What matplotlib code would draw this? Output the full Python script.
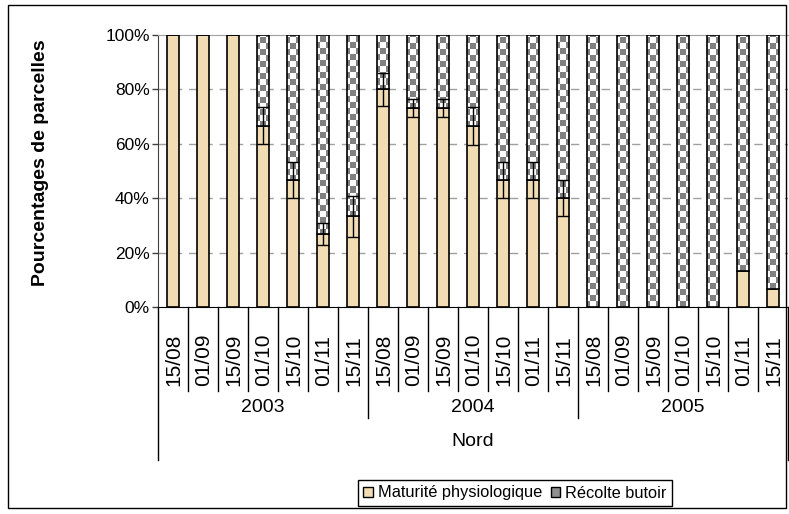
import numpy as np
import matplotlib
matplotlib.use("Agg")
import matplotlib.pyplot as plt
from matplotlib import transforms
from matplotlib.colors import ListedColormap
from matplotlib.patches import Rectangle, Patch

plt.rcParams["font.family"] = ["Liberation Sans", "DejaVu Sans"]

# ---- data -------------------------------------------------------------
region = "Nord"
years = ["2003", "2004", "2005"]
dates = ["15/08", "01/09", "15/09", "01/10", "15/10", "01/11", "15/11"]
maturite = [100, 100, 100, 66.7, 46.7, 26.7, 33.3,
            80, 73.3, 73.3, 66.7, 46.7, 46.7, 40,
            0, 0, 0, 0, 0, 13.3, 6.7]
erreur = [0, 0, 0, 6.7, 6.5, 4, 7.5,
          6, 3.3, 3.3, 7, 6.5, 6.5, 6.7,
          0, 0, 0, 0, 0, 0, 0]
recolte = [100 - m for m in maturite]
series_labels = ["Maturité physiologique", "Récolte butoir"]

# ---- figure -----------------------------------------------------------
W, H = 789, 514
fig = plt.figure(figsize=(W / 100, H / 100), dpi=100)
ax = fig.add_axes([158 / W, 1 - 307 / H, 630 / W, 272 / H])

def fy(py):
    return 1 - py / H

tan = "#F1DCB3"
grey = "#808080"
x = np.arange(len(maturite))
m = np.array(maturite, dtype=float)
e = np.array(erreur, dtype=float)

ax.set_xlim(-0.5, len(maturite) - 0.5)
ax.set_ylim(0, 100)

# gridlines
for v in (20, 40, 60, 80):
    ax.axhline(v, color="#a0a0a0", lw=1, ls=(0, (6, 5)), zorder=1)

bw = 0.4
ax.bar(x, m, width=bw, color=tan, edgecolor="black", lw=1.2, zorder=3)
rb = ax.bar(x, recolte, bottom=m, width=bw, color="white", edgecolor="none", zorder=3)

# checkerboard fill for the "Récolte butoir" part, 6 px squares
sq_x = 6 / 30.0
sq_y = 6 / 2.72
nx = int(np.ceil(len(maturite) / sq_x))
ny = int(np.ceil(100 / sq_y)) + 1
checker = (np.add.outer(np.arange(ny), np.arange(nx)) % 2).astype(float)
cmap = ListedColormap(["white", grey])
for p in rb.patches:
    if p.get_height() <= 0:
        continue
    im = ax.imshow(checker, cmap=cmap, origin="lower", interpolation="nearest",
                   aspect="auto", zorder=3.5,
                   extent=(-0.5, -0.5 + nx * sq_x, 0, ny * sq_y))
    im.set_clip_path(p)
ax.bar(x, recolte, bottom=m, width=bw, fill=False, edgecolor="black", lw=1.2, zorder=4)

mask = e > 0
ax.errorbar(x[mask], m[mask], yerr=e[mask], fmt="none", ecolor="black",
            elinewidth=1, capsize=4.3, capthick=1, zorder=5)

ax.set_xlim(-0.5, len(maturite) - 0.5)
ax.set_ylim(0, 100)

# axes styling
ax.set_yticks([0, 20, 40, 60, 80, 100])
ax.set_yticklabels([f"{v}%" for v in range(0, 101, 20)], fontsize=12.5)
ax.tick_params(axis="y", direction="out", length=4, width=1, color="#404040", pad=2)
ax.set_xticks([])
ax.spines["right"].set_visible(False)
ax.spines["top"].set_color("#a0a0a0")
ax.spines["left"].set_color("#404040")
ax.spines["bottom"].set_color("black")
ax.set_ylabel("Pourcentages de parcelles", fontsize=14, fontweight="bold")
ax.yaxis.set_label_coords((49 - 158) / 630, 0.53)

# hierarchical category axis
trans = transforms.blended_transform_factory(ax.transData, fig.transFigure)
n = len(maturite)
for k in range(n + 1):
    if k in (0, n):
        bottom = 460
    elif k % 7 == 0:
        bottom = 418
    else:
        bottom = 391
    ax.plot([k - 0.5, k - 0.5], [fy(307), fy(bottom)], transform=trans,
            color="black", lw=1, clip_on=False)
for i in range(n):
    ax.text(i + 0.03, fy(386), dates[i % 7], rotation=90, ha="center", va="bottom",
            transform=trans, fontsize=15)
for j, yr in enumerate(years):
    ax.text(7 * j + 3, fy(408), yr, ha="center", va="center",
            transform=trans, fontsize=14)
ax.text((n - 1) / 2, fy(441), region, ha="center", va="center",
        transform=trans, fontsize=14)

# legend
handles = [Patch(facecolor=tan, edgecolor="black", lw=1),
           Patch(facecolor="#8f8f8f", edgecolor="black", lw=1)]
leg = fig.legend(handles, series_labels, loc="center", ncol=2,
                 bbox_to_anchor=(515 / W, fy(493)), frameon=True, fancybox=False,
                 edgecolor="black", framealpha=1, fontsize=11.8,
                 handlelength=0.6, handleheight=0.6, handletextpad=0.3,
                 columnspacing=0.5, borderpad=0.35, borderaxespad=0)
leg.get_frame().set_linewidth(1)

# chart border
fig.add_artist(Rectangle((8 / W, fy(508)), (786 - 8) / W, (508 - 5) / H,
                         transform=fig.transFigure, fill=False,
                         edgecolor="black", lw=1))

fig.savefig("out.png", dpi=100)
